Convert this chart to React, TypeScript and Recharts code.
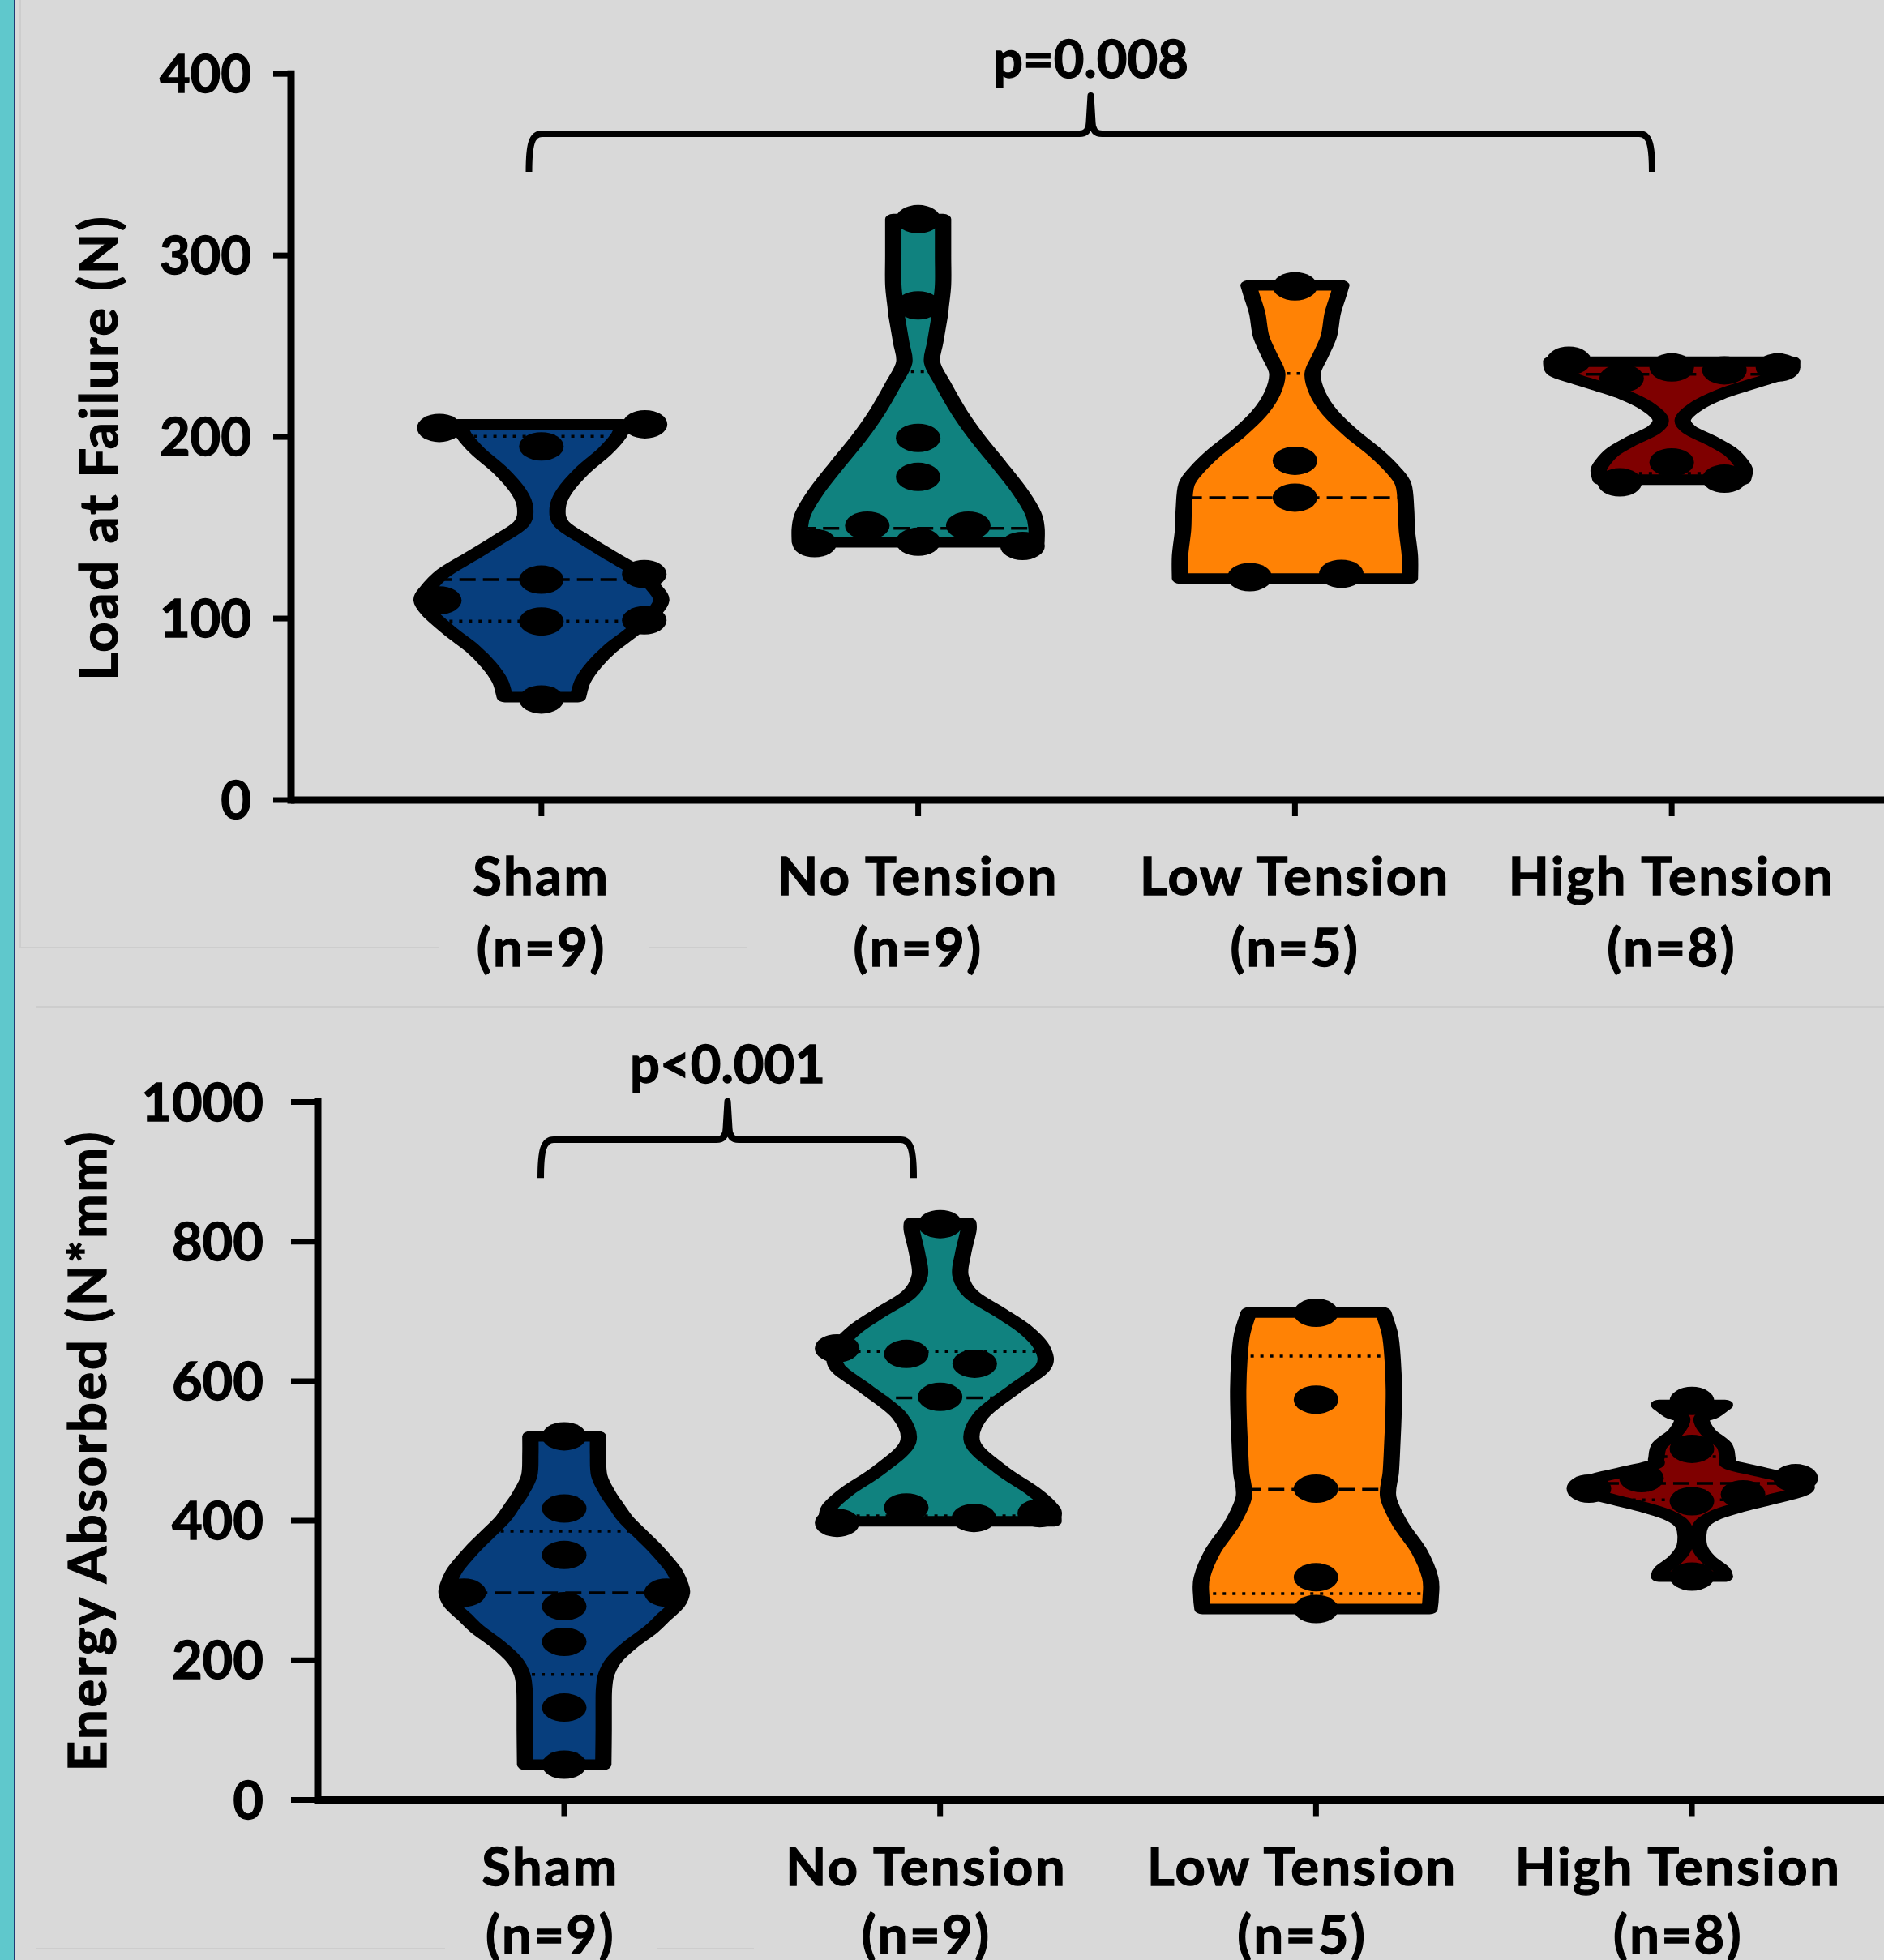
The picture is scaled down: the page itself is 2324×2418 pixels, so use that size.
import React from 'react';
import { ComposedChart, Scatter, XAxis, YAxis } from 'recharts';

// ---------------- data ----------------
const categories = ['Sham', 'No Tension', 'Low Tension', 'High Tension'];
const loadCounts = ['(n=9)', '(n=9)', '(n=5)', '(n=8)'];
const energyCounts = ['(n=9)', '(n=9)', '(n=5)', '(n=8)'];
const groupColors = ['#073e7d', '#10827f', '#ff8205', '#7f0000'];

const loadTicks = [0, 100, 200, 300, 400];
const energyTicks = [0, 200, 400, 600, 800, 1000];

// violin outlines: [value, half width in category units], top -> bottom
const loadShamOutline: [number, number][] = [[207, 0.217], [201, 0.206], [192, 0.168], [181.7, 0.11], [169.8, 0.06], [160.8, 0.043], [152, 0.054], [143, 0.118], [134, 0.189], [125, 0.26], [116, 0.303], [110, 0.318], [103, 0.297], [92.4, 0.239], [83.5, 0.183], [74.5, 0.14], [65.6, 0.11], [56.7, 0.097]];
const loadNoOutline: [number, number][] = [[320, 0.066], [300, 0.066], [284, 0.066], [272, 0.06], [266.5, 0.057], [252, 0.045], [241, 0.037], [229.5, 0.065], [214, 0.108], [199.5, 0.157], [184.7, 0.215], [169.8, 0.271], [158, 0.305], [150, 0.314], [142, 0.314]];
const loadLowOutline: [number, number][] = [[283.5, 0.123], [278, 0.115], [268, 0.1], [255.6, 0.09], [245, 0.068], [235, 0.047], [224, 0.06], [213, 0.095], [202, 0.15], [191.5, 0.213], [182, 0.26], [173.7, 0.288], [160, 0.295], [148.8, 0.297], [134.5, 0.305], [122, 0.305]];
const loadHighOutline: [number, number][] = [[241.5, 0.32], [236, 0.312], [232, 0.256], [227.8, 0.191], [223.3, 0.127], [217.4, 0.069], [210, 0.03], [204, 0.047], [198, 0.105], [192, 0.155], [186, 0.183], [181.7, 0.194], [176.5, 0.189]];

// individual points: [offset, value]
const loadShamDots: [number, number][] = [[-0.271, 205], [0.275, 207], [0, 194.8], [0, 121.4], [0.273, 124.5], [-0.271, 110], [0, 98.4], [0.273, 99], [0, 55.4]];
const loadNoDots: [number, number][] = [[0, 320], [0, 272.5], [0, 199.5], [0, 178], [-0.135, 151.2], [0.133, 151.2], [-0.275, 141.5], [0, 142.3], [0.277, 140]];
const loadLowDots: [number, number][] = [[0, 283], [0, 186.9], [0, 166.6], [-0.12, 122.8], [0.123, 124.6]];
const loadHighDots: [number, number][] = [[-0.273, 242], [0, 238.3], [0.14, 236.7], [0.282, 238.3], [-0.133, 232.3], [0, 186], [-0.138, 175], [0.14, 177]];

// median (m) and quartile (q) lines: [value, half width, kind]
const loadShamLines: [number, number, string][] = [[121.4, 0.28, 'm'], [200.4, 0.205, 'q'], [98.6, 0.27, 'q']];
const loadNoLines: [number, number, string][] = [[149.7, 0.315, 'm'], [236, 0.045, 'q'], [142.5, 0.315, 'q']];
const loadLowLines: [number, number, string][] = [[166.6, 0.29, 'm'], [235, 0.047, 'q'], [123, 0.3, 'q']];
const loadHighLines: [number, number, string][] = [[234.5, 0.29, 'm'], [240.5, 0.31, 'q'], [180, 0.19, 'q']];

const energyShamOutline: [number, number][] = [[521, 0.09], [495, 0.09], [465, 0.093], [440, 0.115], [420, 0.14], [402, 0.164], [380, 0.205], [358, 0.246], [330, 0.29], [310, 0.308], [297, 0.313], [280, 0.3], [262, 0.265], [244.5, 0.231], [222, 0.175], [200, 0.132], [180, 0.112], [160, 0.106], [138, 0.105], [100, 0.105], [50.5, 0.104]];
const energyNoOutline: [number, number][] = [[827, 0.075], [815, 0.075], [782.6, 0.061], [751.7, 0.054], [724.5, 0.083], [697.4, 0.162], [674.2, 0.226], [647.2, 0.272], [620, 0.274], [589, 0.198], [550.3, 0.108], [511.6, 0.086], [473, 0.162], [442, 0.248], [418.7, 0.295], [399.3, 0.302]];
const energyLowOutline: [number, number][] = [[698.3, 0.179], [666.4, 0.197], [630, 0.204], [589, 0.207], [550, 0.206], [511.6, 0.203], [470, 0.199], [434.1, 0.192], [395.5, 0.224], [356.8, 0.274], [318, 0.304], [290, 0.305], [273.5, 0.302]];
const energyHighOutline: [number, number][] = [[566, 0.088], [554, 0.058], [546.5, 0.026], [527, 0.043], [507.8, 0.086], [488.4, 0.095], [480.6, 0.1], [471, 0.173], [461.3, 0.252], [451.6, 0.302], [442, 0.291], [430.3, 0.209], [418.7, 0.123], [407, 0.058], [391.6, 0.022], [364.5, 0.019], [345, 0.043], [329.6, 0.08], [320, 0.088]];

const energyShamDots: [number, number][] = [[0, 521], [0, 417.5], [0, 351], [-0.267, 297], [0.272, 297], [0, 277.5], [0, 226.5], [0, 132.3], [0, 50.5]];
const energyNoDots: [number, number][] = [[0, 825], [-0.274, 647], [-0.09, 639], [0.092, 625], [0, 577.5], [-0.09, 419], [-0.274, 397], [0.09, 404], [0.265, 411]];
const energyLowDots: [number, number][] = [[0, 698], [0, 573.5], [0, 446], [0, 319], [0, 273.5]];
const energyHighDots: [number, number][] = [[0, 571.7], [0, 503], [-0.134, 461], [-0.274, 446], [0.276, 461], [0.136, 438], [0, 428], [0, 320]];

const energyShamLines: [number, number, string][] = [[296.8, 0.31, 'm'], [385, 0.195, 'q'], [179.8, 0.112, 'q']];
const energyNoLines: [number, number, string][] = [[576, 0.18, 'm'], [642.5, 0.272, 'q'], [407, 0.3, 'q']];
const energyLowLines: [number, number, string][] = [[445, 0.19, 'm'], [636, 0.2, 'q'], [295.6, 0.3, 'q']];
const energyHighLines: [number, number, string][] = [[453.5, 0.3, 'm'], [492, 0.1, 'q'], [430, 0.21, 'q']];

// significance brackets (data coordinates)
const loadBracket = { x0: -0.033, x1: 2.948, xc: 1.458, yb: 346, yh: 367, tip: 388, textY: 398, label: 'p=0.008' };
const energyBracket = { x0: -0.0625, x1: 0.9295, xc: 0.4346, yb: 891, yh: 946, tip: 1001, textY: 1027, label: 'p<0.001' };

// ---------------- helpers ----------------
const FONT = {
  fontFamily: 'Lato, "Open Sans", sans-serif',
  fontWeight: 700,
  fontSize: 65,
  fill: '#000',
  stroke: '#000',
  strokeWidth: 1.3,
};
const LABEL_FONT = { ...FONT, letterSpacing: 2.5 };
const YLABEL_FONT = { ...FONT, letterSpacing: 2.8 };
const STRETCH = 1.55;

type P = { x: number; y: number };

function smooth(p: P[]): string {
  let d = '';
  for (let i = 0; i < p.length - 1; i++) {
    const p0 = p[i - 1] || p[i];
    const p1 = p[i];
    const p2 = p[i + 1];
    const p3 = p[i + 2] || p2;
    const t = 1 / 6;
    const c1x = p1.x + (p2.x - p0.x) * t;
    const c1y = p1.y + (p2.y - p0.y) * t;
    const c2x = p2.x - (p3.x - p1.x) * t;
    const c2y = p2.y - (p3.y - p1.y) * t;
    d += ` C${c1x},${c1y} ${c2x},${c2y} ${p2.x},${p2.y}`;
  }
  return d;
}

const violinRenderer = (mode: 'fill' | 'stroke', color: string) => (props: any) => {
  const pts: P[] = props.points || [];
  if (pts.length < 4) return <g />;
  const n = pts.length / 2;
  const xs = pts.map((p) => p.x);
  const pivot = (Math.min(...xs) + Math.max(...xs)) / 2;
  const sx = (p: P) => ({ x: pivot + (p.x - pivot) / STRETCH, y: p.y });
  const r = pts.slice(0, n).map(sx);
  const l = pts.slice(n).map(sx);
  const d = `M${r[0].x},${r[0].y}${smooth(r)} L${l[0].x},${l[0].y}${smooth(l)} Z`;
  return (
    <g transform={`translate(${pivot},0) scale(${STRETCH},1) translate(${-pivot},0)`}>
      <path
        d={d}
        fill={mode === 'fill' ? color : 'none'}
        stroke={mode === 'stroke' ? '#000' : 'none'}
        strokeWidth={13}
        strokeLinejoin="round"
      />
    </g>
  );
};

const segmentRenderer = (kinds: string[]) => (props: any) => {
  const pts: P[] = props.points || [];
  const out: React.ReactNode[] = [];
  for (let i = 0; i + 1 < pts.length; i += 2) {
    const kind = kinds[i / 2];
    out.push(
      <line
        key={i}
        x1={pts[i].x}
        y1={pts[i].y}
        x2={pts[i + 1].x}
        y2={pts[i + 1].y}
        stroke="#000"
        strokeWidth={3.5}
        strokeDasharray={kind === 'm' ? '20 9' : '4 8'}
      />
    );
  }
  return <g>{out}</g>;
};

const bracketRenderer = (props: any) => {
  const p: P[] = props.points || [];
  if (p.length < 5) return <g />;
  const [lb, lt, tip, , rb] = p;
  const yh = lt.y;
  const d =
    `M${lb.x},${lb.y} C${lb.x},${yh + 14} ${lb.x + 3},${yh} ${lb.x + 16},${yh}` +
    ` L${tip.x - 14},${yh} Q${tip.x - 2},${yh} ${tip.x - 2},${yh - 14} L${tip.x},${tip.y}` +
    ` L${tip.x + 2},${yh - 14} Q${tip.x + 2},${yh} ${tip.x + 14},${yh}` +
    ` L${rb.x - 16},${yh} C${rb.x - 3},${yh} ${rb.x},${yh + 14} ${rb.x},${rb.y}`;
  return <path d={d} fill="none" stroke="#000" strokeWidth={8} strokeLinejoin="round" />;
};

const axisLineRenderer = (props: any) => {
  const p: P[] = props.points || [];
  if (p.length < 2) return <g />;
  return <line x1={p[0].x} y1={p[0].y} x2={p[1].x} y2={p[1].y} stroke="#000" strokeWidth={9} strokeLinecap="square" />;
};

const none = () => <g />;
const dotShape = (props: any) => <ellipse cx={props.cx} cy={props.cy} rx={27.5} ry={17.5} fill="#000" />;

type Group = { outline: [number, number][]; dots: [number, number][]; lines: [number, number, string][] };

function groupSeries(groups: Group[], prefix: string) {
  const out: React.ReactNode[] = [];
  groups.forEach((g, i) => {
    const right = g.outline.map(([v, w]) => ({ x: i + w, y: v }));
    const left = g.outline.slice().reverse().map(([v, w]) => ({ x: i - w, y: v }));
    const outlineData = [...right, ...left];
    const lineData: P[] = [];
    g.lines.forEach(([v, w]) => {
      lineData.push({ x: i - w, y: v });
      lineData.push({ x: i + w, y: v });
    });
    const dotData = g.dots.map(([dx, v]) => ({ x: i + dx, y: v }));
    const color = groupColors[i];
    out.push(
      <Scatter key={`${prefix}f${i}`} data={outlineData} shape={none} line={violinRenderer('fill', color)} isAnimationActive={false} legendType="none" />,
      <Scatter key={`${prefix}l${i}`} data={lineData} shape={none} line={segmentRenderer(g.lines.map((l) => l[2]))} isAnimationActive={false} legendType="none" />,
      <Scatter key={`${prefix}s${i}`} data={outlineData} shape={none} line={violinRenderer('stroke', color)} isAnimationActive={false} legendType="none" />,
      <Scatter key={`${prefix}d${i}`} data={dotData} shape={dotShape} isAnimationActive={false} legendType="none" />
    );
  });
  return out;
}

function bracketSeries(b: typeof loadBracket, prefix: string) {
  const data = [
    { x: b.x0, y: b.yb },
    { x: b.x0, y: b.yh },
    { x: b.xc, y: b.tip },
    { x: b.x1, y: b.yh },
    { x: b.x1, y: b.yb },
  ];
  const textShape = (props: any) => (
    <text x={props.cx} y={props.cy} textAnchor="middle" style={FONT}>
      {b.label}
    </text>
  );
  return [
    <Scatter key={`${prefix}b`} data={data} shape={none} line={bracketRenderer} isAnimationActive={false} legendType="none" />,
    <Scatter key={`${prefix}t`} data={[{ x: b.xc, y: b.textY }]} shape={textShape} isAnimationActive={false} legendType="none" />,
  ];
}

const makeXTick = (counts: string[], dx: number, off1: number, off2: number) => (props: any) => {
  const { x, y, payload } = props;
  const i = payload.value as number;
  return (
    <g>
      <text x={x + dx} y={y + off1} textAnchor="middle" style={LABEL_FONT}>
        {categories[i]}
      </text>
      <text x={x + dx} y={y + off2} textAnchor="middle" style={LABEL_FONT}>
        {counts[i]}
      </text>
    </g>
  );
};

const makeYLabel = (text: string, x: number, y: number) => () => (
  <text x={x} y={y} transform={`rotate(-90 ${x} ${y})`} textAnchor="middle" style={YLABEL_FONT}>
    {text}
  </text>
);

const loadGroups: Group[] = [
  { outline: loadShamOutline, dots: loadShamDots, lines: loadShamLines },
  { outline: loadNoOutline, dots: loadNoDots, lines: loadNoLines },
  { outline: loadLowOutline, dots: loadLowDots, lines: loadLowLines },
  { outline: loadHighOutline, dots: loadHighDots, lines: loadHighLines },
];
const energyGroups: Group[] = [
  { outline: energyShamOutline, dots: energyShamDots, lines: energyShamLines },
  { outline: energyNoOutline, dots: energyNoDots, lines: energyNoLines },
  { outline: energyLowOutline, dots: energyLowDots, lines: energyLowLines },
  { outline: energyHighOutline, dots: energyHighDots, lines: energyHighLines },
];

function LoadChart() {
  const xDomain: [number, number] = [-0.6645, 3.5634];
  return (
    <ComposedChart width={2324} height={1230} margin={{ top: 24, right: 0, bottom: 0, left: 0 }}>
      <XAxis
        type="number"
        dataKey="x"
        domain={xDomain}
        ticks={[0, 1, 2, 3]}
        interval={0}
        height={243}
        axisLine={{ stroke: '#000', strokeWidth: 9 }}
        tickLine={{ stroke: '#000', strokeWidth: 7 }}
        tickSize={20}
        tickMargin={0}
        tick={makeXTick(loadCounts, 0, 97, 185)}
      />
      <YAxis
        type="number"
        dataKey="y"
        domain={[0, 430]}
        ticks={loadTicks}
        interval={0}
        width={359}
        axisLine={false}
        tickLine={{ stroke: '#000', strokeWidth: 7 }}
        tickSize={22}
        tickMargin={27}
        tick={FONT}
        label={makeYLabel('Load at Failure (N)', 145, 552)}
      />
      <Scatter data={[{ x: xDomain[0], y: 0 }, { x: xDomain[0], y: 400 }]} shape={none} line={axisLineRenderer} isAnimationActive={false} legendType="none" />
      {groupSeries(loadGroups, 'L')}
      {bracketSeries(loadBracket, 'L')}
    </ComposedChart>
  );
}

function EnergyChart() {
  const xDomain: [number, number] = [-0.6556, 3.511];
  return (
    <ComposedChart width={2324} height={1178} margin={{ top: 20.5, right: 0, bottom: 0, left: 0 }}>
      <XAxis
        type="number"
        dataKey="x"
        domain={xDomain}
        ticks={[0, 1, 2, 3]}
        interval={0}
        height={197.5}
        axisLine={{ stroke: '#000', strokeWidth: 9 }}
        tickLine={{ stroke: '#000', strokeWidth: 7 }}
        tickSize={20}
        tickMargin={0}
        tick={makeXTick(energyCounts, -17, 85, 169)}
      />
      <YAxis
        type="number"
        dataKey="y"
        domain={[0, 1115]}
        ticks={energyTicks}
        interval={0}
        width={392}
        axisLine={false}
        tickLine={{ stroke: '#000', strokeWidth: 7 }}
        tickSize={33}
        tickMargin={34}
        tick={FONT}
        label={makeYLabel('Energy Absorbed (N*mm)', 131, 549.5)}
      />
      <Scatter data={[{ x: xDomain[0], y: 0 }, { x: xDomain[0], y: 1000 }]} shape={none} line={axisLineRenderer} isAnimationActive={false} legendType="none" />
      {groupSeries(energyGroups, 'E')}
      {bracketSeries(energyBracket, 'E')}
    </ComposedChart>
  );
}

const faint = '#cdcdcd';

export default function App() {
  return (
    <div style={{ position: 'absolute', left: 0, top: 0, width: 2324, height: 2418, background: '#d9d9d9', overflow: 'hidden' }}>
      <div style={{ position: 'absolute', left: 0, top: 0, width: 17, height: 2418, background: '#5fc8cc' }} />
      <div style={{ position: 'absolute', left: 17, top: 0, width: 2, height: 2418, background: '#1f3b73' }} />
      <div style={{ position: 'absolute', left: 24, top: 0, width: 2, height: 1169, background: faint }} />
      <div style={{ position: 'absolute', left: 24, top: 1168, width: 518, height: 2, background: faint }} />
      <div style={{ position: 'absolute', left: 801, top: 1168, width: 121, height: 2, background: faint }} />
      <div style={{ position: 'absolute', left: 44, top: 1241, width: 2280, height: 2, background: faint }} />
      <div style={{ position: 'absolute', left: 44, top: 2403, width: 505, height: 2, background: faint }} />
      <div style={{ position: 'absolute', left: 811, top: 2403, width: 119, height: 2, background: faint }} />
      <div style={{ position: 'absolute', left: 0, top: 0 }}>
        <LoadChart />
      </div>
      <div style={{ position: 'absolute', left: 0, top: 1240 }}>
        <EnergyChart />
      </div>
    </div>
  );
}
